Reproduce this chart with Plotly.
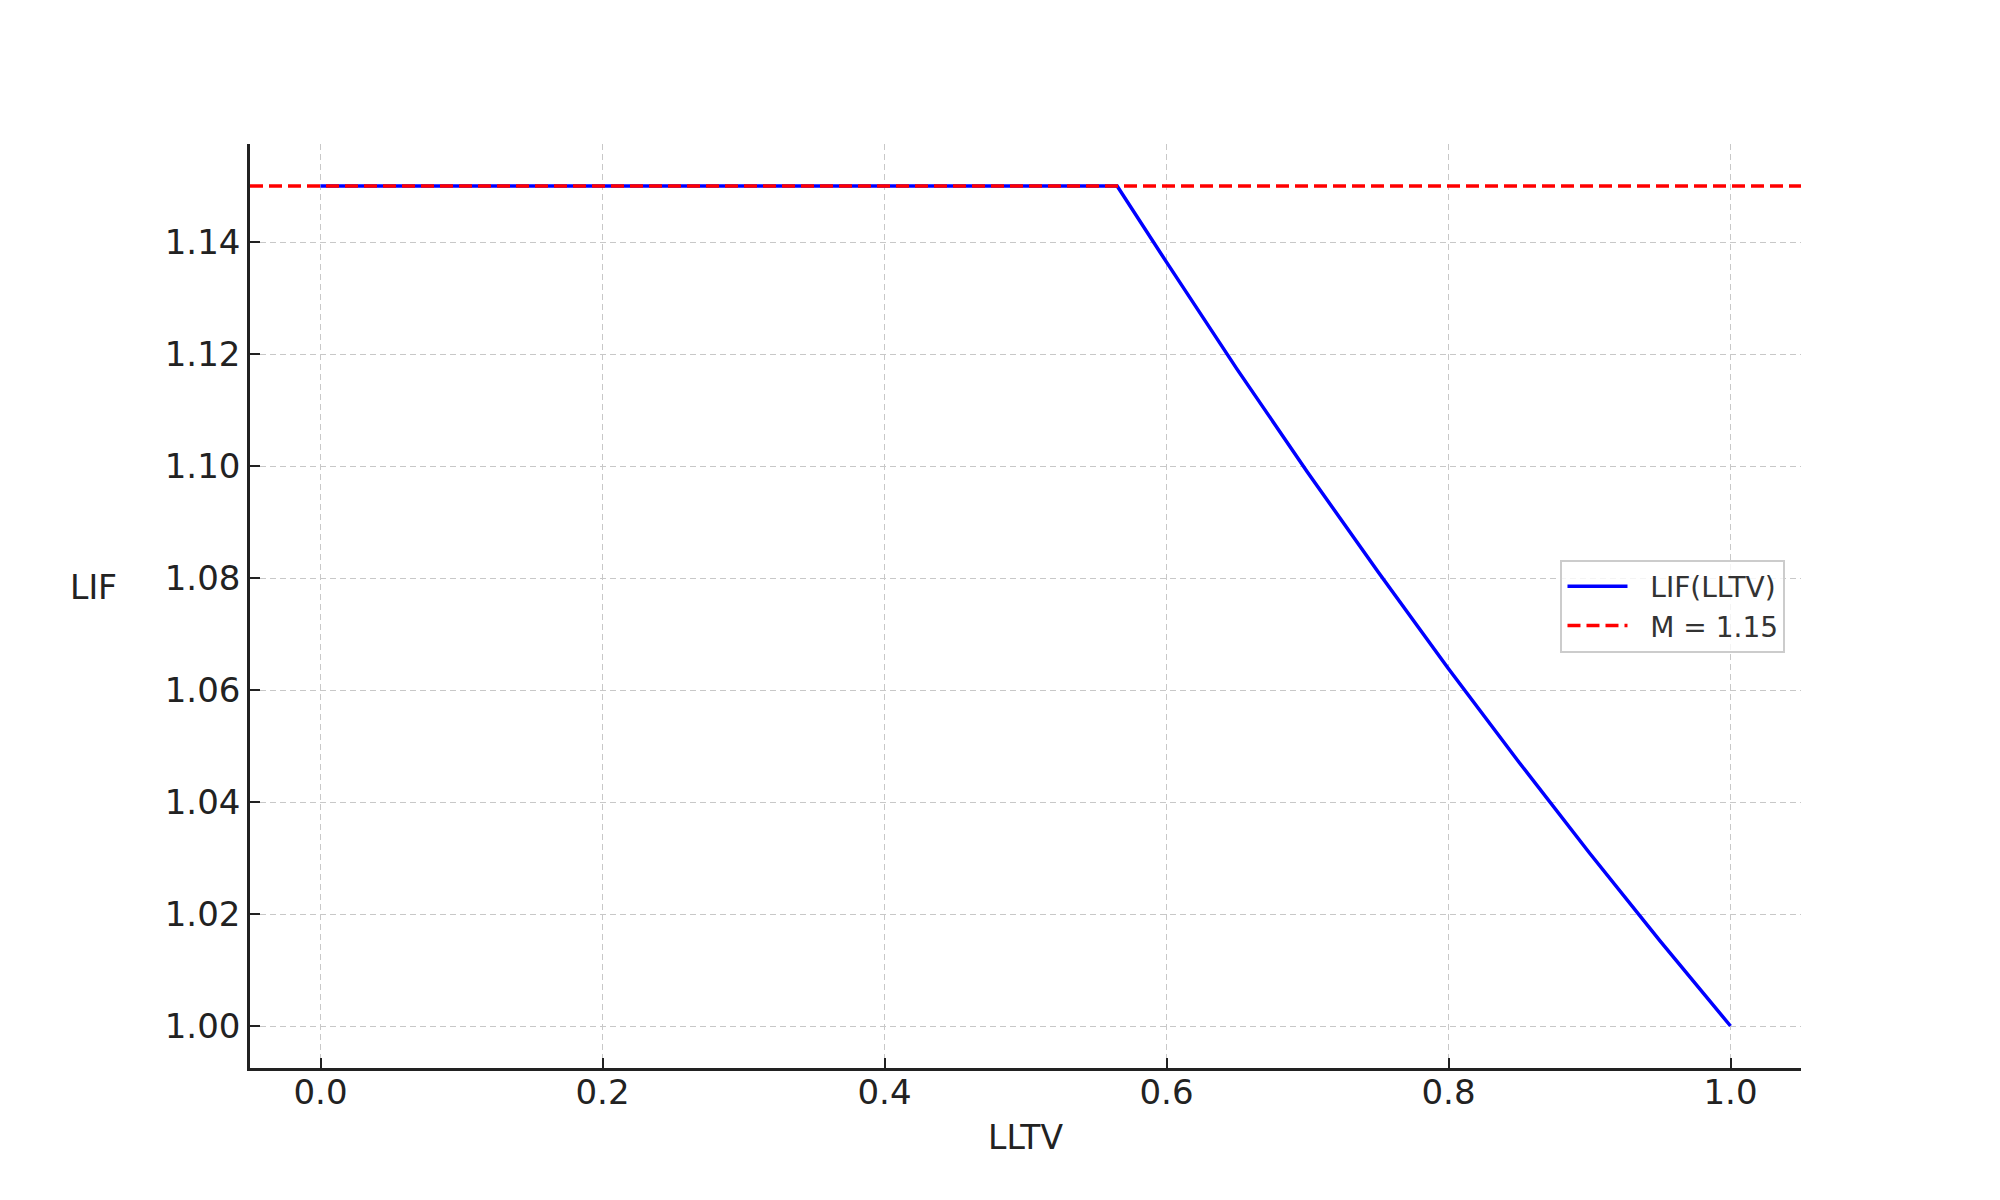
import plotly.graph_objects as go

# LIF curve
lltv = [0.0, 0.1, 0.2, 0.3, 0.4, 0.5, 0.565, 0.6, 0.65, 0.7, 0.75, 0.8, 0.85, 0.9, 0.95, 1.0]
lif = [1.15, 1.15, 1.15, 1.15, 1.15, 1.15, 1.15, 1.1364, 1.1173, 1.0989, 1.0811, 1.0638, 1.0471, 1.0309, 1.0152, 1.0]

m_value = 1.15
m_x = [-0.05, 1.05]
m_y = [m_value, m_value]

x_ticks = [0.0, 0.2, 0.4, 0.6, 0.8, 1.0]
y_ticks = [1.00, 1.02, 1.04, 1.06, 1.08, 1.10, 1.12, 1.14]

FONT = "DejaVu Sans"
PAD = "\u00a0\u00a0"

fig = go.Figure()
fig.add_trace(go.Scatter(x=lltv, y=lif, mode="lines", name=PAD + "LIF(LLTV)",
                         line=dict(color="#0000ff", width=3.5)))
fig.add_trace(go.Scatter(x=m_x, y=m_y, mode="lines", name=PAD + "M = 1.15",
                         line=dict(color="#ff0000", width=3.5, dash="13px,6px")))

axis_common = dict(
    showline=True, linecolor="#222222", linewidth=2.5, mirror=False,
    ticks="inside", ticklen=10, tickwidth=2, tickcolor="#222222",
    showgrid=True, gridcolor="#c8c8c8", gridwidth=1.3, griddash="6px,4px",
    zeroline=False, tickfont=dict(family=FONT, size=34, color="#222222"),
)

fig.update_layout(
    width=2000, height=1200,
    paper_bgcolor="white", plot_bgcolor="white",
    margin=dict(l=242, r=207, t=136, b=140),
    font=dict(family=FONT, color="#222222"),
    xaxis=dict(range=[-0.05, 1.05], tickvals=x_ticks,
               ticktext=[f"{v:.1f}" for v in x_ticks],
               ticklabelstandoff=-8,
               title=dict(text="LLTV", font=dict(family=FONT, size=33, color="#222222"), standoff=16),
               **axis_common),
    yaxis=dict(range=[0.9925, 1.1575], tickvals=y_ticks,
               ticktext=[f"{v:.2f}" for v in y_ticks],
               **axis_common),
    legend=dict(x=0.99, y=0.5, xanchor="right", yanchor="middle",
                bgcolor="rgba(255,255,255,0.8)", bordercolor="#cccccc", borderwidth=2,
                font=dict(family=FONT, size=28, color="#333333"),
                itemwidth=60, tracegroupgap=4),
    showlegend=True,
)

fig.add_annotation(text="LIF", xref="paper", yref="paper", x=-0.101, y=0.52,
                   xanchor="center", yanchor="middle", showarrow=False,
                   font=dict(family=FONT, size=33, color="#222222"))

fig.write_html("out.html")
